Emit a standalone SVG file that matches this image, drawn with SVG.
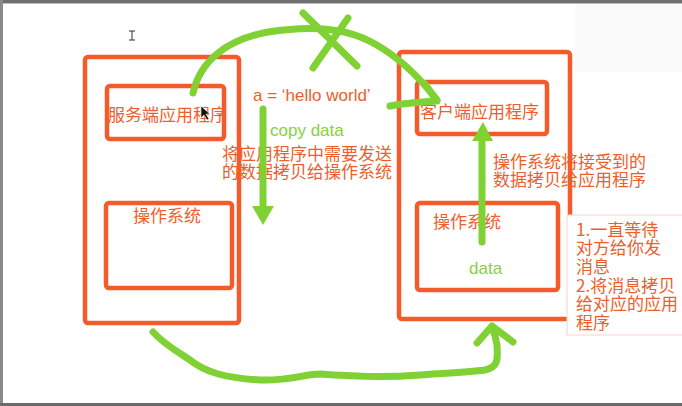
<svg xmlns="http://www.w3.org/2000/svg" width="682" height="406" viewBox="0 0 682 406">
<style>
.box{fill:none;stroke:#F55A2A;stroke-width:4.5;stroke-linejoin:round}
.cn{font-family:"Noto Sans CJK SC","Liberation Sans",sans-serif;font-size:17px;fill:#EE5E2C}
.lat{font-family:"Liberation Sans",Arial,sans-serif;font-size:17px;fill:#EE5E2C}
.grn{font-family:"Liberation Sans",Arial,sans-serif;font-size:17px;fill:#86D23F}
.g{fill:none;stroke:#80D133;stroke-width:7;stroke-linecap:round;stroke-linejoin:round}
</style>
<rect width="682" height="406" fill="#ffffff"/>
<rect x="575" y="4" width="107" height="68" fill="#fafafa"/>
<rect x="0" y="0" width="682" height="3" fill="#707070"/>
<rect x="0" y="3" width="682" height="1" fill="#bdbdbd"/>
<rect x="0" y="0" width="3" height="406" fill="#8a8a8a"/>
<rect x="0" y="403" width="682" height="3" fill="#6a6a6a"/>
<path d="M129 31h6M132 31v9M129 40h6" stroke="#333" stroke-width="1" fill="none"/>

<g id="server">
<rect class="box" x="85" y="57" width="154" height="266" rx="3"/>
<g id="server-app">
<rect class="box" x="107" y="86" width="117" height="53" rx="3"/>
<text class="cn" x="108" y="121">服务端应用程序</text>
</g>
<g id="server-os">
<rect class="box" x="106" y="203" width="126" height="85" rx="3"/>
<text class="cn" x="133" y="222">操作系统</text>
</g>
</g>

<g id="client">
<rect class="box" x="399" y="52" width="171" height="267" rx="3"/>
<g id="client-app">
<rect class="box" x="417" y="82" width="130" height="52" rx="3"/>
<text class="cn" x="420" y="118">客户端应用程序</text>
</g>
<g id="client-os">
<rect class="box" x="417" y="203" width="141" height="87" rx="3"/>
<text class="cn" x="433" y="228">操作系统</text>
<text class="grn" x="469" y="274">data</text>
</g>
</g>

<g id="note">
<rect x="567" y="215" width="120" height="120" fill="#ffffff" stroke="#f6d4d0" stroke-width="1"/>
<text class="cn" x="576" y="236">1.一直等待</text>
<text class="cn" x="576" y="254">对方给你发</text>
<text class="cn" x="576" y="273">消息</text>
<text class="cn" x="576" y="292">2.将消息拷贝</text>
<text class="cn" x="576" y="310">给对应的应用</text>
<text class="cn" x="576" y="329">程序</text>
</g>

<g id="labels">
<text class="lat" x="253" y="101">a = ‘hello world’</text>
<text class="grn" x="270" y="136">copy data</text>
<text class="cn" x="222" y="160">将应用程序中需要发送</text>
<text class="cn" x="222" y="178">的数据拷贝给操作系统</text>
<text class="cn" x="493" y="168">操作系统将接受到的</text>
<text class="cn" x="493" y="186">数据拷贝给应用程序</text>
</g>

<g id="connectors">
<path class="g" d="M193 93 C200 62 225 40 268 32 C305 26 345 26 375 44 C400 58 420 78 437 100"/>
<path class="g" d="M390 106 C405 103 420 102 437 101 L425 84"/>
<path class="g" d="M303 13 L357 66 M348 18 L313 68"/>
<path class="g" d="M263 109 L263 205" stroke-width="6"/>
<polygon points="252,206 274,206 263,225" fill="#80D133"/>
<path class="g" d="M482 242 L482 138" stroke-width="6"/>
<polygon points="472,141 493,141 483,122" fill="#80D133"/>
<path class="g" d="M153 332 C165 345 178 352 190 360 C205 372 225 378 260 380 C290 381 305 374 320 374 C350 376 380 378 420 375 C450 373 470 372 485 370 C498 367 498 360 497 345 C496 338 494 332 492 327"/>
<path class="g" d="M477 343 L492 326 L513 342"/>
</g>
<path d="M201 106 L201 118 L204 115 L207 120 L209 119 L206 114 L210 114 Z" fill="#111" stroke="#fff" stroke-width="0.6"/>
</svg>
